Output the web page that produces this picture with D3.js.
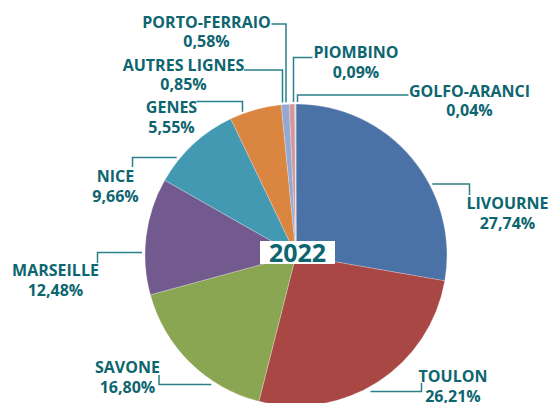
<!DOCTYPE html>
<html>
<head>
<meta charset="utf-8">
<script src="https://cdn.jsdelivr.net/npm/d3@7"></script>
<style>
  body { margin: 0; background: #fff; }
  text { font-family: 'Open Sans', sans-serif; font-weight: 700; fill: #0d6570; }
</style>
</head>
<body>
<div id="chart-area"></div>
<script>
const canvas_width = 548;
const canvas_height = 403;

const ports = ['LIVOURNE', 'TOULON', 'SAVONE', 'MARSEILLE', 'NICE', 'GENES',
    'AUTRES LIGNES', 'PORTO-FERRAIO', 'PIOMBINO', 'GOLFO-ARANCI'];
const shares = [27.74, 26.21, 16.80, 12.48, 9.66, 5.55, 0.85, 0.58, 0.09, 0.04];
const colors = ['#4a72a6', '#a94745', '#8aa653', '#725a8e', '#4399b1', '#da8540',
    '#94a8d2', '#d49697', '#c9b3d6', '#b8cce4'];
const year_label = '2022';

const cx = 296, cy = 255, radius = 151;
const line_color = '#2a7f88';

// label placement: text centre / first baseline, and leader elbow
const labels = {
    'LIVOURNE':      { tx: 507.5, ty: 209, kind: 'side', hy: 184,   ex: 469.5, vy: 195, side: 1, gap: 3 },
    'TOULON':        { tx: 453,   ty: 382, kind: 'side', hy: 391.5, ex: 421.5, vy: 383, side: 1, gap: 10 },
    'SAVONE':        { tx: 127.5, ty: 373, kind: 'side', hy: 384.5, ex: 159,   vy: 375, side: -1, gap: 7 },
    'MARSEILLE':     { tx: 55.5,  ty: 276, kind: 'side', hy: 252.5, ex: 97.5,  vy: 263, side: -1, gap: 3 },
    'NICE':          { tx: 115.5, ty: 182, kind: 'side', hy: 157.5, ex: 132.5, vy: 167, side: -1, gap: 4 },
    'GENES':         { tx: 171.5, ty: 113, kind: 'top', ex: 242.5, hy: 101.5, hx: 196.5 },
    'AUTRES LIGNES': { tx: 183.5, ty: 70.5, kind: 'top', ex: 282.5, hy: 70, hx: 244 },
    'PORTO-FERRAIO': { tx: 206.5, ty: 27.5, kind: 'top', ex: 286,   hy: 24, hx: 271.5 },
    'PIOMBINO':      { tx: 356,   ty: 58,   kind: 'top', ex: 293.5, hy: 57.5, hx: 312.5 },
    'GOLFO-ARANCI':  { tx: 469.5, ty: 96.5, kind: 'top', ex: 297.5, hy: 95, hx: 408.5 }
};

const data = ports.map((p, i) => ({ port: p, share: shares[i], color: colors[i] }));
const fmt = (v) => d3.format('.2f')(v).replace('.', ',') + '%';

let canvas = d3.select('#chart-area').append('svg')
    .attr('width', canvas_width)
    .attr('height', canvas_height);

let pie = d3.pie().sort(null).value((d) => d.share);
let arc = d3.arc().innerRadius(0).outerRadius(radius);

let group = canvas.append('g').attr('transform', `translate(${cx}, ${cy})`);

group.selectAll('path').data(pie(data)).enter().append('path')
    .attr('d', arc)
    .attr('fill', (d) => d.data.color)
    .attr('stroke', '#ffffff')
    .attr('stroke-width', 0.4)
    .attr('stroke-opacity', 0.6);

// leader lines
const leader = (l) => {
    if (l.kind === 'top') {
        let yEdge = cy - Math.sqrt(radius * radius - (l.ex - cx) * (l.ex - cx)) - 2;
        return [[l.ex, yEdge], [l.ex, l.hy], [l.hx, l.hy]];
    }
    let dy = l.hy - cy;
    let xEdge = cx + l.side * (Math.sqrt(radius * radius - dy * dy) + l.gap);
    return [[xEdge, l.hy], [l.ex, l.hy], [l.ex, l.vy]];
};

canvas.append('g').selectAll('path').data(data).enter().append('path')
    .attr('d', (d) => d3.line()(leader(labels[d.port])))
    .attr('fill', 'none')
    .attr('stroke', line_color)
    .attr('stroke-width', 1.5);

let texts = canvas.append('g').selectAll('text').data(data).enter().append('text')
    .attr('text-anchor', 'middle')
    .attr('font-size', '16px');

texts.append('tspan')
    .attr('x', (d) => labels[d.port].tx)
    .attr('y', (d) => labels[d.port].ty)
    .text((d) => d.port);
texts.append('tspan')
    .attr('x', (d) => labels[d.port].tx)
    .attr('y', (d) => labels[d.port].ty + 19.5)
    .text((d) => fmt(d.share));

// year box
canvas.append('rect')
    .attr('x', 260).attr('y', 241)
    .attr('width', 75).attr('height', 23)
    .attr('fill', '#ffffff');
canvas.append('text')
    .attr('x', 297.5).attr('y', 261.5)
    .attr('text-anchor', 'middle')
    .attr('font-size', '25px')
    .text(year_label);
</script>
</body>
</html>
